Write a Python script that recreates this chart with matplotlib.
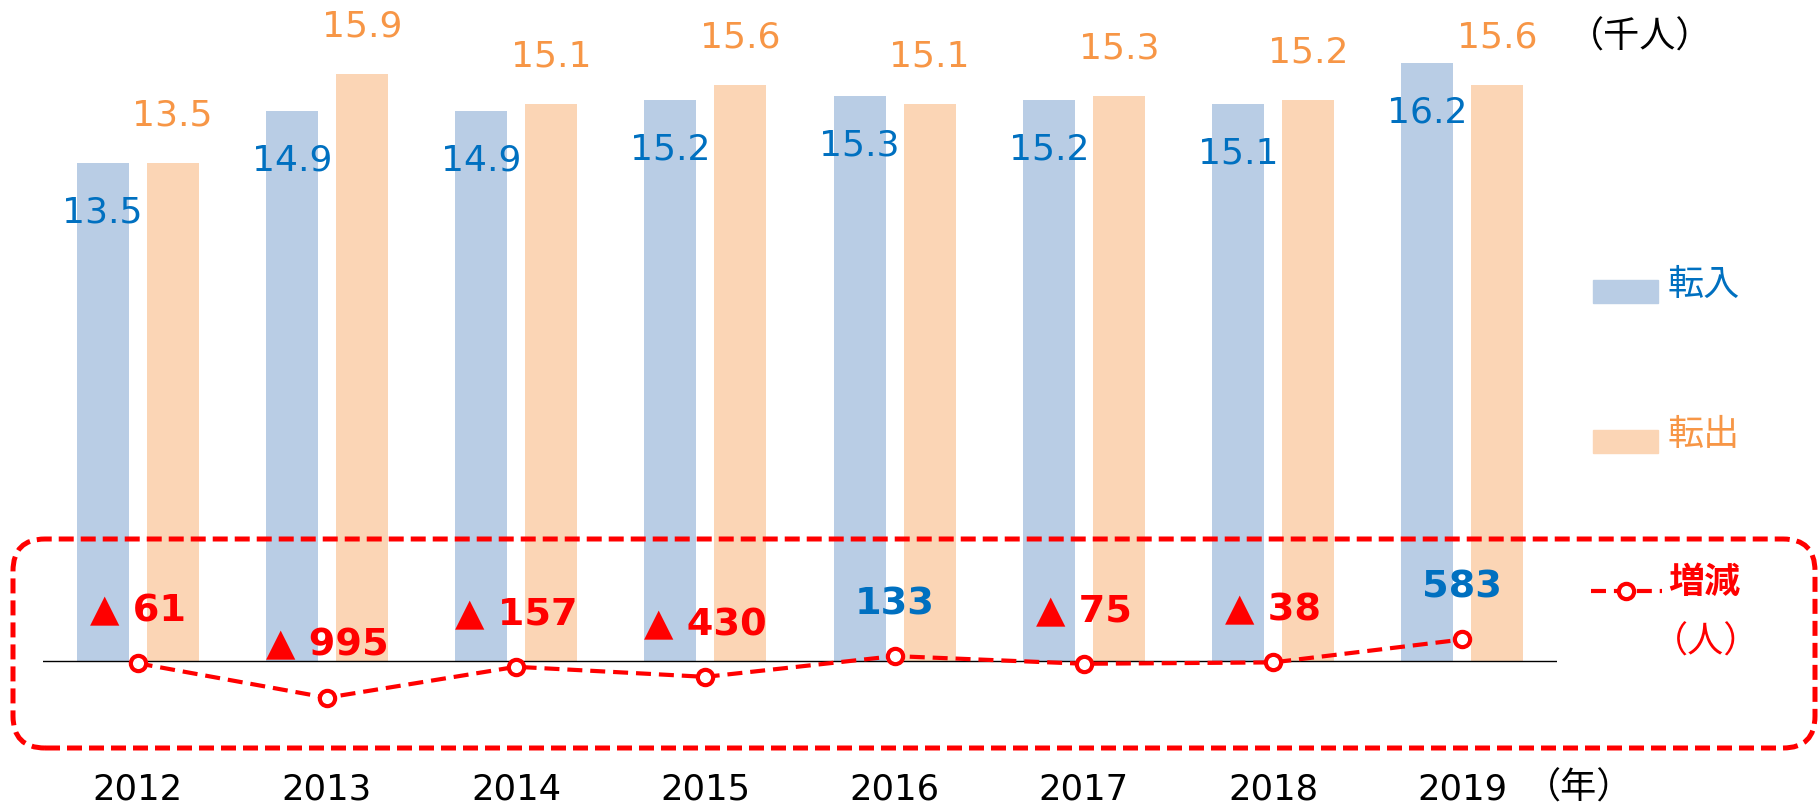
import matplotlib
matplotlib.use("Agg")
import matplotlib.pyplot as plt
from matplotlib.patches import FancyBboxPatch, Rectangle
from matplotlib.lines import Line2D
from matplotlib.transforms import Affine2D

plt.rcParams['font.family'] = ['DejaVu Sans', 'Noto Sans CJK JP']

years = ['2012', '2013', '2014', '2015', '2016', '2017', '2018', '2019']
tennyu = [13.5, 14.9, 14.9, 15.2, 15.3, 15.2, 15.1, 16.2]   # 転入 (千人)
tenshutsu = [13.5, 15.9, 15.1, 15.6, 15.1, 15.3, 15.2, 15.6]  # 転出 (千人)
zougen = [-61, -995, -157, -430, 133, -75, -38, 583]  # 増減 (人)

BLUE_BAR = '#B9CDE5'
ORANGE_BAR = '#FBD5B5'
BLUE_TXT = '#0070C0'
ORANGE_TXT = '#F79646'
RED = '#FF0000'

W, H = 1818, 808
PX = 36.9  # pixels per 1000 people

fig = plt.figure(figsize=(W / 100, H / 100), dpi=100)
ax = fig.add_axes([43 / W, 0, 1514 / W, 1])
ax.set_xlim(-0.5, 7.5)
ax.set_ylim(-147 / PX, 661 / PX)
ax.axis('off')

x = list(range(len(years)))
off, bw = 0.185, 0.274
ax.bar([i - off for i in x], tennyu, width=bw, color=BLUE_BAR, zorder=1)
ax.bar([i + off for i in x], tenshutsu, width=bw, color=ORANGE_BAR, zorder=1)
ax.axhline(0, color='black', lw=1.0, zorder=2)

for i in x:
    ax.text(i - off, tennyu[i] - 59.5 / PX, f'{tennyu[i]:.1f}', color=BLUE_TXT,
            fontsize=26, ha='center', va='baseline', zorder=3)
    ax.text(i + off, tenshutsu[i] + 37.5 / PX, f'{tenshutsu[i]:.1f}', color=ORANGE_TXT,
            fontsize=26, ha='center', va='baseline', zorder=3)
    ax.text(i, -139 / PX, years[i], color='black', fontsize=25.5,
            ha='center', va='baseline')

net_k = [v / 1000 for v in zougen]
ax.plot(x, net_k, color=RED, lw=3, ls=(0, (3.6, 1.9)), marker='o', ms=11,
        mfc='white', mec=RED, mew=3, zorder=4)
for i in x:
    v = zougen[i]
    s = f'{v}' if v > 0 else f'▲ {abs(v)}'
    ax.text(i, net_k[i] + 42 / PX, s, color=BLUE_TXT if v > 0 else RED,
            fontsize=27.5, fontweight='bold', ha='center', va='baseline', zorder=5)

# rounded dashed frame around the net change area, in pixel units
px_tr = Affine2D().scale(1 / W, 1 / H) + fig.transFigure
frame = FancyBboxPatch((13, H - 748), 1815 - 13, 748 - 539,
                       boxstyle='round,pad=0,rounding_size=32',
                       transform=px_tr, fill=False, edgecolor=RED, lw=3.6,
                       ls=(0, (3, 1.4)), zorder=6)
fig.patches.append(frame)

# legend
fig.patches.append(Rectangle((1593, H - 303), 65, 23, transform=px_tr,
                             color=BLUE_BAR))
fig.patches.append(Rectangle((1593, H - 453), 65, 23, transform=px_tr,
                             color=ORANGE_BAR))
fig.text(1668 / W, 1 - 285 / H, '転入', color=BLUE_TXT, fontsize=26,
         ha='left', va='center')
fig.text(1668 / W, 1 - 435 / H, '転出', color=ORANGE_TXT, fontsize=26,
         ha='left', va='center')
fig.lines.append(Line2D([1591, 1662], [H - 591, H - 591], transform=px_tr,
                        color=RED, lw=3, ls=(0, (3.6, 1.9)), marker='o', ms=11,
                        mfc='white', mec=RED, mew=3, markevery=[]))
fig.lines.append(Line2D([1626], [H - 591], transform=px_tr, color=RED,
                        marker='o', ms=11, mfc='white', mec=RED, mew=3))
fig.text(1668 / W, 1 - 583 / H, '増減', color=RED, fontsize=26,
         fontweight='bold', ha='left', va='center')
fig.text(1706 / W, 1 - 642 / H, '（人）', color=RED, fontsize=26,
         ha='center', va='center')
fig.text(1640 / W, 1 - 37 / H, '（千人）', color='black', fontsize=26,
         ha='center', va='center')
fig.text(1579 / W, 1 - 788 / H, '（年）', color='black', fontsize=26,
         ha='center', va='center')

fig.savefig('out.png', dpi=100)
